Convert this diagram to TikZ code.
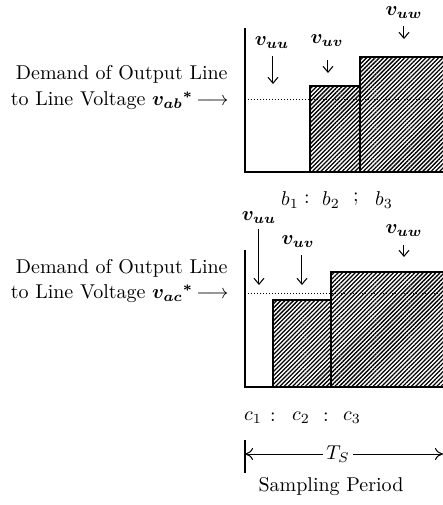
\documentclass[tikz,border=0pt]{standalone}
\usepackage{bm}
\usetikzlibrary{arrows.meta,patterns.meta}
\tikzset{
  axisline/.style={line width=0.8pt},
  bar/.style={draw, line width=0.9pt, pattern={Lines[angle=45,distance=1.5pt,line width=0.65pt]}},
  refline/.style={densely dotted, line width=0.5pt},
  demand/.style={->, line width=0.5pt, >={Straight Barb[length=3pt,width=5pt]}},
  lbl/.style={inner sep=1pt},
  txt/.style={inner sep=1pt, anchor=east},
}
\begin{document}
\begin{tikzpicture}[x=0.5pt,y=-0.5pt]
\useasboundingbox (0,0) rectangle (443,505);
% ---------- top chart ----------
\draw[bar] (310,172) rectangle (360,86);
\draw[bar] (360,172) rectangle (446,57);
\draw[axisline] (245,28) -- (245,172) -- (446,172);
\draw[refline] (245,99) -- (446,99);
\node[txt] (t1a) at (230,74) {Demand of Output Line};
\node[txt] (t1b) at (231,101) {to Line Voltage $\bm{v_{ab}}{}^{\bm *}$\,$\longrightarrow$};
\node[lbl] (uu1) at (272,43) {$\bm{v_{uu}}$};
\node[lbl] (uv1) at (327,41) {$\bm{v_{uv}}$};
\node[lbl] (uw1) at (404,13) {$\bm{v_{uw}}$};
\coordinate (uu1s) at (273,56); \coordinate (uu1e) at (273,84);
\coordinate (uv1s) at (328,60); \coordinate (uv1e) at (328,73);
\coordinate (uw1s) at (404,26); \coordinate (uw1e) at (404,39);
\draw[demand] (uu1s) -- (uu1e);
\draw[demand] (uv1s) -- (uv1e);
\draw[demand] (uw1s) -- (uw1e);
\node[lbl] (b1) at (290,200) {$b_1$};
\node[lbl] (bc1) at (307,199) {:};
\node[lbl] (b2) at (331,200) {$b_2$};
\node[lbl] (bc2) at (356,199) {;};
\node[lbl] (b3) at (384,200) {$b_3$};
% ---------- bottom chart ----------
\draw[bar] (273,387) rectangle (331,300);
\draw[bar] (331,387) rectangle (446,272);
\draw[axisline] (245,250) -- (245,387) -- (446,387);
\draw[refline] (245,293) -- (446,293);
\node[txt] (t2a) at (230,268) {Demand of Output Line};
\node[txt] (t2b) at (231,294) {to Line Voltage $\bm{v_{ac}}{}^{\bm *}$\,$\longrightarrow$};
\node[lbl] (uu2) at (259,218) {$\bm{v_{uu}}$};
\node[lbl] (uv2) at (298,242) {$\bm{v_{uv}}$};
\node[lbl] (uw2) at (404,231) {$\bm{v_{uw}}$};
\coordinate (uu2s) at (259,229); \coordinate (uu2e) at (259,285);
\coordinate (uv2s) at (302,255); \coordinate (uv2e) at (302,285);
\coordinate (uw2s) at (404,245); \coordinate (uw2e) at (404,257);
\draw[demand] (uu2s) -- (uu2e);
\draw[demand] (uv2s) -- (uv2e);
\draw[demand] (uw2s) -- (uw2e);
\node[lbl] (c1) at (253,418) {$c_1$};
\node[lbl] (cc1) at (273,417) {:};
\node[lbl] (c2) at (301,418) {$c_2$};
\node[lbl] (cc2) at (326,417) {:};
\node[lbl] (c3) at (352,418) {$c_3$};
% ---------- sampling period ----------
\coordinate (tk1) at (245,440); \coordinate (tk2) at (245,473);
\draw[line width=0.6pt] (tk1) -- (tk2);
\coordinate (tsl) at (245,454); \coordinate (tsr) at (443,454);
\node[fill=white, inner sep=1.5pt] (ts) at (338,454) {$T_S$};
\draw[line width=0.5pt, ->, >={To[length=4pt,width=6pt]}] (ts.west) -- (tsl);
\draw[line width=0.5pt, ->, >={To[length=4pt,width=6pt]}] (ts.east) -- (tsr);
\node (sp) at (331,487) {Sampling Period};
\end{tikzpicture}
\end{document}
